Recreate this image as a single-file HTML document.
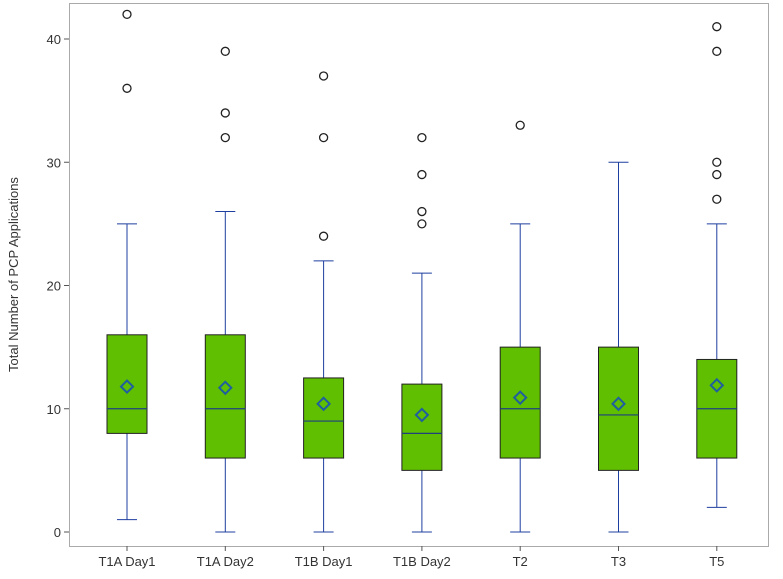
<!DOCTYPE html>
<html><head><meta charset="utf-8"><style>
body{margin:0;background:#fff;font-family:"Liberation Sans",sans-serif}
svg{display:block}
text{font-family:"Liberation Sans",sans-serif;fill:#333}
</style></head><body>
<svg id="chart" width="783" height="579"></svg>
<script>
const categories=["T1A Day1","T1A Day2","T1B Day1","T1B Day2","T2","T3","T5"];
const mins=[1,0,0,0,0,0,2];
const q1s=[8,6,6,5,6,5,6];
const medians=[10,10,9,8,10,9.5,10];
const q3s=[16,16,12.5,12,15,15,14];
const maxs=[25,26,22,21,25,30,25];
const means=[11.8,11.7,10.4,9.5,10.9,10.4,11.9];
const outliers=[[36,42],[32,34,39],[24,32,37],[25,26,29,32],[33],[],[27,29,30,39,41]];
const yTicks=[0,10,20,30,40];
const NS="http://www.w3.org/2000/svg";
const svg=document.getElementById('chart');
const L=69,R=768,T=3,B=546;
function y(v){return 532-v*(493/40);}
function x(i){return 127+i*98.3;}
function mk(tag,attrs,parent){const e=document.createElementNS(NS,tag);for(const k in attrs)e.setAttribute(k,attrs[k]);(parent||svg).appendChild(e);return e;}
const frame=mk('rect',{x:L+0.5,y:T+0.5,width:R-L,height:B-T,fill:'none',stroke:'#aaa'});


const yt=mk('text',{x:18,y:(T+B)/2,'font-size':13,'text-anchor':'middle',transform:`rotate(-90 18 ${(T+B)/2})`});
yt.textContent='Total Number of PCP Applications';


yTicks.forEach(v=>{
 mk('line',{x1:L-5,x2:L,y1:y(v),y2:y(v),stroke:'#555'});
 const t=mk('text',{x:L-8,y:y(v)+5,'font-size':13,'text-anchor':'end'});
 t.textContent=v;
 
 
});
categories.forEach((c,i)=>{
 const cx=x(i);
 mk('line',{x1:cx,x2:cx,y1:B,y2:B+5,stroke:'#555'});
 const t=mk('text',{x:cx,y:B+20,'font-size':13,'text-anchor':'middle'});
 t.textContent=c;
 
 
 const g=mk('g',{});
 
 
 const blue='#1f3f9f';
 mk('line',{x1:cx,x2:cx,y1:y(maxs[i]),y2:y(q3s[i]),stroke:blue},g);
 mk('line',{x1:cx,x2:cx,y1:y(q1s[i]),y2:y(mins[i]),stroke:blue},g);
 mk('line',{x1:cx-10,x2:cx+10,y1:y(maxs[i]),y2:y(maxs[i]),stroke:blue},g);
 mk('line',{x1:cx-10,x2:cx+10,y1:y(mins[i]),y2:y(mins[i]),stroke:blue},g);
 mk('rect',{x:cx-20,y:y(q3s[i]),width:40,height:y(q1s[i])-y(q3s[i]),fill:'#5fbf00',stroke:'#222'},g);
 mk('line',{x1:cx-20,x2:cx+20,y1:y(medians[i]),y2:y(medians[i]),stroke:'#1f3f7f','stroke-width':1.2},g);
 const my=y(means[i]);
 mk('polygon',{points:`${cx},${my-6} ${cx+6},${my} ${cx},${my+6} ${cx-6},${my}`,fill:'none',stroke:'#1f5f9f','stroke-width':2},g);
 outliers[i].forEach(o=>{mk('circle',{cx:cx,cy:y(o),r:4,fill:'none',stroke:'#222','stroke-width':1.3},g);});
});
</script>
</body></html>
